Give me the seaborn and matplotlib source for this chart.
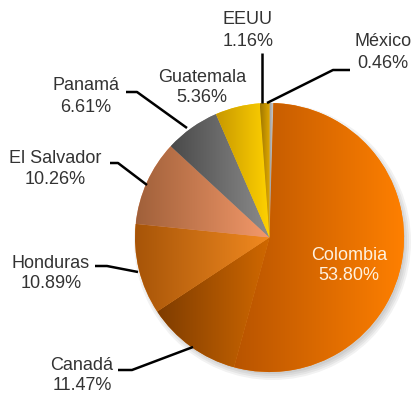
import numpy as np
import matplotlib
matplotlib.use("Agg")
import matplotlib.pyplot as plt
from matplotlib.colors import LinearSegmentedColormap
from matplotlib.patches import Circle
import seaborn as sns

# ---- data ----
countries = ["México", "Colombia", "Canadá", "Honduras", "El Salvador", "Panamá", "Guatemala", "EEUU"]
shares = [0.46, 53.80, 11.47, 10.89, 10.26, 6.61, 5.36, 1.16]
pct_labels = ["0.46%", "53.80%", "11.47%", "10.89%", "10.26%", "6.61%", "5.36%", "1.16%"]
grad_left = ["#9a9a9a", "#b85400", "#7e3c00", "#a65408", "#a0603a", "#4a4a4a", "#c89800", "#a07800"]
grad_right = ["#c4c4c4", "#ff8000", "#d06800", "#f28a20", "#f4996a", "#8c8c8c", "#ffd200", "#e0a800"]

sns.set_theme(style="white")
plt.rcParams["font.family"] = ["Liberation Sans", "DejaVu Sans"]

W, H = 414, 397
fig = plt.figure(figsize=(W / 100, H / 100), dpi=100)
ax = fig.add_axes([0, 0, 1, 1])

cx, cy, R = 269.5, H - 237.5, 134.5

# soft shadow
for i, a in enumerate([0.05, 0.05, 0.05, 0.05]):
    ax.add_patch(Circle((cx + 3, cy - 4), R + 4 - 2 * i, color="#000000", alpha=a, lw=0, zorder=0))

wedges, _ = ax.pie(shares, colors=grad_right, startangle=90, counterclock=False,
                   center=(cx, cy), radius=R, wedgeprops=dict(linewidth=0))

grad = np.linspace(0, 1, 256).reshape(1, -1)
for w, c0, c1 in zip(wedges, grad_left, grad_right):
    v = w.get_path().vertices
    cmap = LinearSegmentedColormap.from_list("g", [c0, c1])
    im = ax.imshow(grad, extent=(v[:, 0].min(), v[:, 0].max(), v[:, 1].min(), v[:, 1].max()),
                   cmap=cmap, aspect="auto", origin="lower", zorder=w.get_zorder() + 0.1,
                   interpolation="bilinear")
    im.set_clip_path(w)

tc = "#333333"
fs = 13

def lab(name, pct, x, y1, y2, color=tc):
    ax.text(x, H - y1, name, ha="center", va="center", fontsize=fs, color=color, zorder=5)
    ax.text(x, H - y2, pct, ha="center", va="center", fontsize=fs, color=color, zorder=5)

def leader(pts):
    xs = [p[0] for p in pts]
    ys = [H - p[1] for p in pts]
    ax.plot(xs, ys, color="black", lw=1.8, zorder=4, solid_capstyle="butt")

# Colombia inside
lab(countries[1], pct_labels[1], 349, 255, 276, color="#fff2e0")
# outside labels
lab(countries[0], pct_labels[0], 383, 42, 63)
leader([(350, 70), (333, 70), (267, 103)])
lab(countries[7], pct_labels[7], 248, 20, 41)
leader([(262, 53), (262, 103)])
lab(countries[6], pct_labels[6], 202, 77, 97)
lab(countries[5], pct_labels[5], 86, 86, 107)
leader([(126, 92), (137, 92), (187, 128)])
lab(countries[4], pct_labels[4], 55, 159, 180)
leader([(110, 163), (118, 163), (147, 185)])
lab(countries[3], pct_labels[3], 51, 263, 284)
leader([(95, 266), (107, 266), (138, 272)])
lab(countries[2], pct_labels[2], 82, 366, 386)
leader([(118, 370), (132, 370), (193, 347)])

ax.set_xlim(0, W)
ax.set_ylim(0, H)
ax.set_aspect("equal")
ax.axis("off")
fig.savefig("out.png", dpi=100, facecolor="white")
